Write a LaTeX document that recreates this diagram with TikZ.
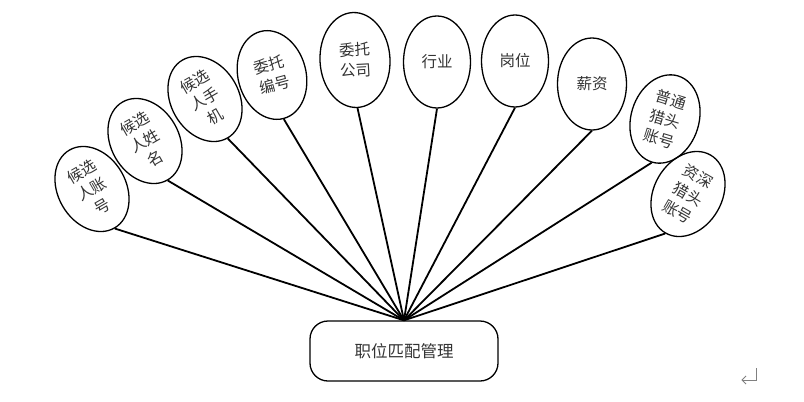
\documentclass[tikz,border=0pt]{standalone}
\usepackage{fontspec}
\newfontfamily\cjk{Noto Sans CJK SC}
\usetikzlibrary{shapes.geometric}
\begin{document}
\begin{tikzpicture}[x=1pt,y=1pt,
  attr/.style={ellipse, draw, line width=1.3pt, minimum width=68pt, minimum height=90pt, inner sep=0pt, align=center, font=\cjk\fontsize{15.5}{20.5}\selectfont, text=black!80},
  link/.style={line width=1.8pt},
  hubbox/.style={draw, rounded corners=18pt, line width=1.3pt, minimum width=188pt, minimum height=60pt, font=\cjk\fontsize{16.5}{20}\selectfont, text=black!80}]
\useasboundingbox (0,0) rectangle (804,-402);
\node[hubbox] (hub) at (404,-351) {职位匹配管理};
\node[attr, rotate=30] (a1) at (92,-189) {候选\\人账\\号};
\node[attr, rotate=30] (a2) at (145,-141) {候选\\人姓\\名};
\node[attr, rotate=30] (a3) at (205,-99) {候选\\人手\\机};
\node[attr, rotate=15] (a4) at (272,-75) {委托\\编号};
\node[attr, rotate=3, minimum height=95pt, minimum width=70pt] (a5) at (355,-60) {委托\\公司};
\node[attr, minimum height=92pt, minimum width=67pt] (a6) at (437,-62) {行业};
\node[attr, minimum height=92pt, minimum width=67pt] (a7) at (515,-61) {岗位};
\node[attr, minimum height=92pt, minimum width=69pt] (a8) at (592,-84) {薪资};
\node[attr, rotate=-17] (a9) at (665,-119) {普通\\猎头\\账号};
\node[attr, rotate=-30] (a10) at (688,-194) {资深\\猎头\\账号};
\foreach \n in {a1,a2,a3,a4,a5,a6,a7,a8,a9,a10}
  \draw[link] (\n.south) -- (hub.north);
\draw[gray, line width=0.8pt] (756,-368) -- (756,-380) -- (742,-380);
\draw[gray, line width=0.8pt] (746,-376) -- (742,-380) -- (746,-384);
\end{tikzpicture}
\end{document}
